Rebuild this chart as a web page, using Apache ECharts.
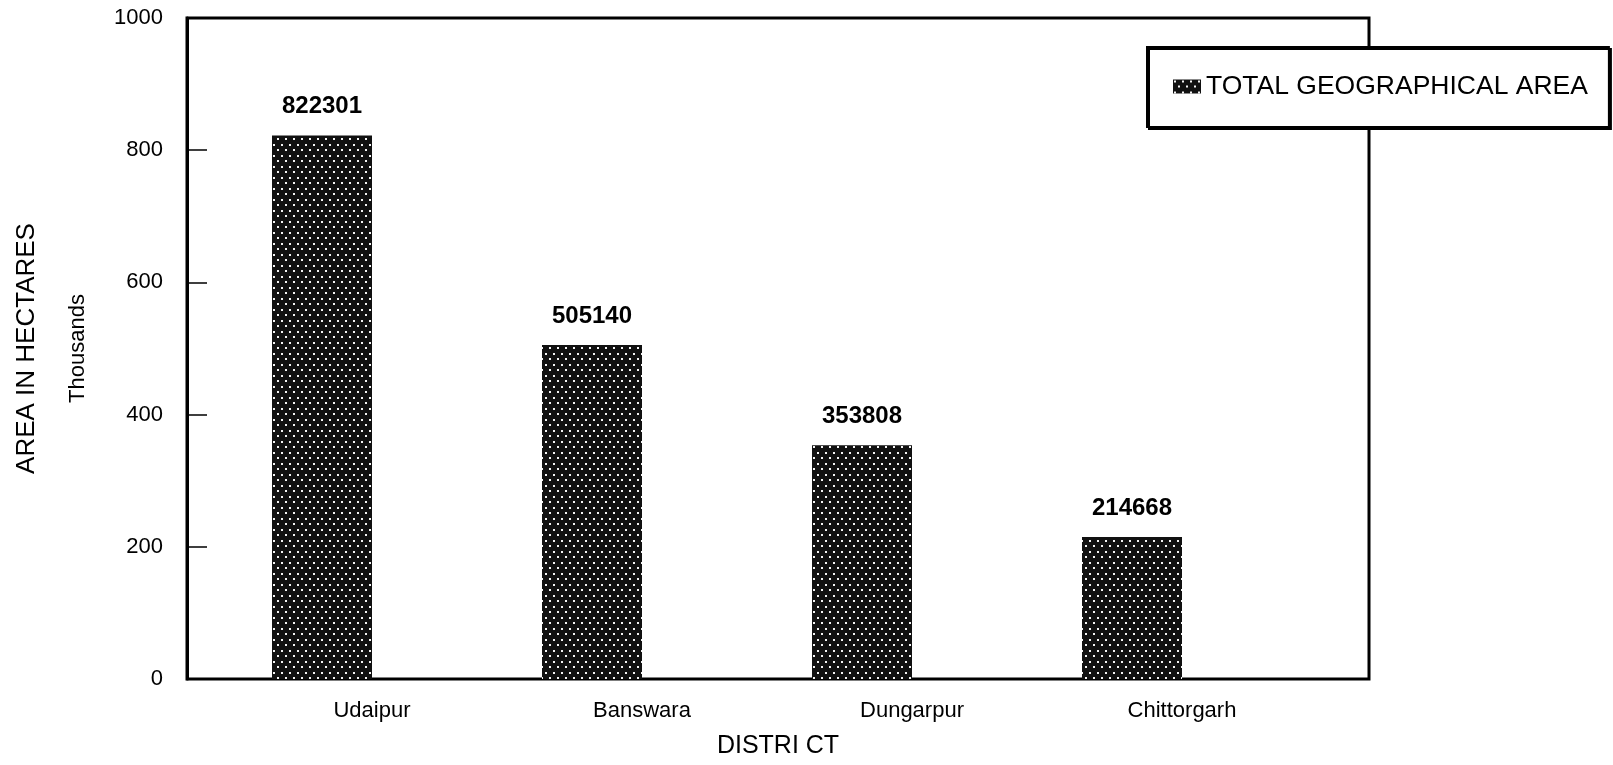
<!DOCTYPE html>
<html>
<head>
<meta charset="utf-8">
<title>Total Geographical Area by District</title>
<script src="https://cdn.jsdelivr.net/npm/echarts@6/dist/echarts.min.js"></script>
<style>
  html, body { margin: 0; padding: 0; background: #fff; }
  #chart { width: 1613px; height: 765px; }
</style>
</head>
<body>
<div id="chart"></div>
<script>
// District areas (hectares); the axis is drawn in thousands
const districts = ['Udaipur', 'Banswara', 'Dungarpur', 'Chittorgarh'];
const areaHectares = [822301, 505140, 353808, 214668];
const yTicks = { min: 0, max: 1000, interval: 200 };
const seriesName = 'TOTAL GEOGRAPHICAL AREA';

// Dark fill with a staggered grid of white dots
function dotPattern() {
  const c = document.createElement('canvas');
  c.width = 8; c.height = 11;
  const g = c.getContext('2d');
  g.fillStyle = '#111';
  g.fillRect(0, 0, c.width, c.height);
  g.fillStyle = '#f4f4f4';
  g.fillRect(1, 1, 2, 2);
  g.fillRect(5, 6, 2, 2);
  return { image: c, repeat: 'repeat' };
}

const FONT = '"Liberation Sans", Arial, sans-serif';
const PLOT_W = 1080;
const chart = echarts.init(document.getElementById('chart'), null, { renderer: 'canvas' });

chart.setOption({
  backgroundColor: '#fff',
  animation: false,
  textStyle: { fontFamily: FONT, color: '#000' },
  grid: [
    // bars and value axis
    { left: 187, top: 18, width: PLOT_W, height: 661, outerBoundsMode: 'none', containLabel: false },
    // outer plot frame
    { left: 187, top: 18, width: 1182, height: 661, show: true, outerBoundsMode: 'none', containLabel: false,
      borderColor: '#000', borderWidth: 3, backgroundColor: 'transparent' }
  ],
  legend: {
    left: 1147, top: 47,
    padding: [26, 21, 27, 26],
    itemWidth: 28, itemHeight: 14, itemGap: 10,
    icon: 'rect',
    backgroundColor: '#fff',
    borderColor: '#000', borderWidth: 2,
    shadowColor: '#000', shadowOffsetX: 2, shadowOffsetY: 2, shadowBlur: 0,
    textStyle: { fontFamily: FONT, fontSize: 26.5, color: '#000' },
    data: [seriesName]
  },
  xAxis: [
    {
      gridIndex: 0, type: 'category', data: districts,
      axisLine: { show: false }, axisTick: { show: false },
      axisLabel: { fontFamily: FONT, fontSize: 22, color: '#000', margin: 21,
                   padding: [0, 0, 0, 100] }
    },
    {
      gridIndex: 1, type: 'value', min: 0, max: 1,
      name: 'DISTRI CT', nameLocation: 'middle', nameGap: 55,
      nameTextStyle: { fontFamily: FONT, fontSize: 25, color: '#000' },
      axisLine: { show: false }, axisTick: { show: false },
      axisLabel: { show: false }, splitLine: { show: false }
    }
  ],
  yAxis: [
    {
      gridIndex: 0, type: 'value', min: yTicks.min, max: yTicks.max, interval: yTicks.interval,
      name: 'AREA IN HECTARES', nameLocation: 'middle', nameGap: 147, nameRotate: 90,
      nameMoveOverlap: false,
      nameTextStyle: { fontFamily: FONT, fontSize: 26, color: '#000' },
      axisLine: { show: true, lineStyle: { color: '#000', width: 3 } },
      axisTick: { show: false },
      axisLabel: { fontFamily: FONT, fontSize: 22, color: '#000', margin: 24,
                   formatter: v => String(v) },
      splitLine: { show: false }
    },
    {
      gridIndex: 0, type: 'value', min: yTicks.min, max: yTicks.max, position: 'left',
      name: 'Thousands', nameLocation: 'middle', nameGap: 98, nameRotate: 90,
      nameMoveOverlap: false,
      nameTextStyle: { fontFamily: FONT, fontSize: 22, color: '#000' },
      axisLine: { show: false }, axisTick: { show: false },
      axisLabel: { show: false }, splitLine: { show: false }
    },
    {
      gridIndex: 1, type: 'value', show: false
    },
    {
      // tick marks along the left edge, pointing into the plot
      gridIndex: 0, type: 'value', min: yTicks.min, max: yTicks.max, interval: yTicks.interval,
      position: 'right', offset: -PLOT_W,
      axisLine: { show: false },
      axisTick: { show: true, length: 20, lineStyle: { color: '#000', width: 1.5 } },
      axisLabel: { show: false }, splitLine: { show: false }
    }
  ],
  series: [
    {
      name: seriesName,
      type: 'bar',
      xAxisIndex: 0, yAxisIndex: 0,
      barWidth: 100,
      data: areaHectares.map(v => v / 1000),
      itemStyle: { color: dotPattern() },
      label: {
        show: true, position: 'top', distance: 17,
        fontFamily: FONT, fontSize: 24, fontWeight: 'bold', color: '#000',
        formatter: p => String(areaHectares[p.dataIndex])
      }
    }
  ]
});
</script>
</body>
</html>
